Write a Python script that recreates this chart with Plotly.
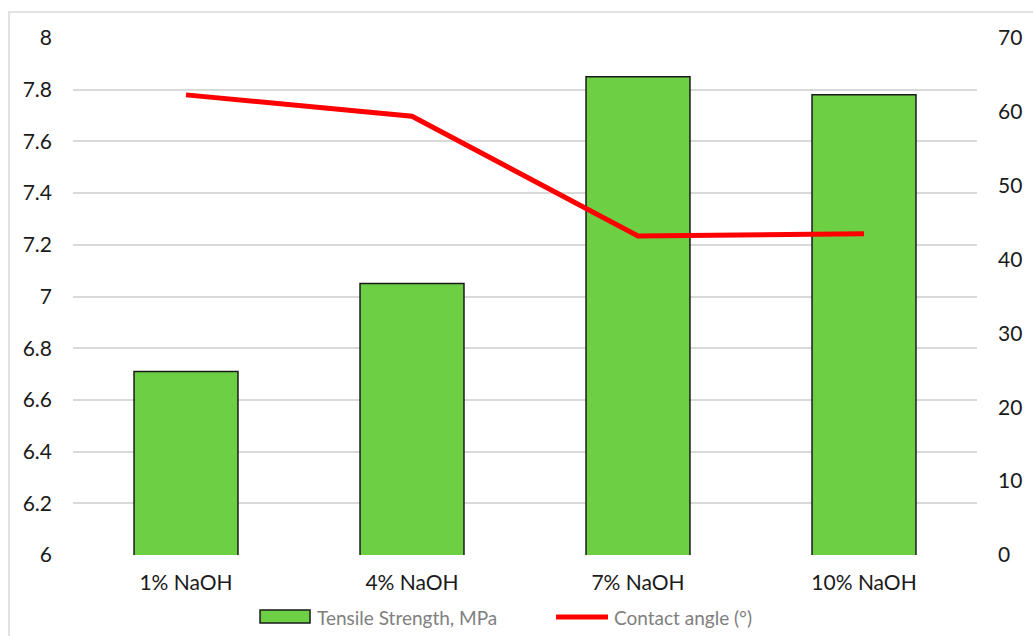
import plotly.graph_objects as go

categories = ["1% NaOH", "4% NaOH", "7% NaOH", "10% NaOH"]
tensile_strength = [6.71, 7.05, 7.85, 7.78]
contact_angle = [62.3, 59.4, 43.2, 43.5]

left_ticks = [6, 6.2, 6.4, 6.6, 6.8, 7, 7.2, 7.4, 7.6, 7.8, 8]
left_tick_text = ["6", "6.2", "6.4", "6.6", "6.8", "7", "7.2", "7.4", "7.6", "7.8", "8"]
right_ticks = [0, 10, 20, 30, 40, 50, 60, 70]

bar_name = "Tensile Strength, MPa"
line_name = "Contact angle (°)"

FONT = "Lato, 'Open Sans', sans-serif"
BAR_FILL = "#6dd044"
LINE_RED = "#ff0000"

fig = go.Figure()
fig.add_trace(go.Bar(
    x=categories, y=tensile_strength, name=bar_name,
    marker=dict(color=BAR_FILL, line=dict(color="#1a1a1a", width=1.5)),
    yaxis="y", showlegend=False,
))
fig.add_trace(go.Scatter(
    x=categories, y=contact_angle, name=line_name,
    mode="lines", line=dict(color=LINE_RED, width=5),
    yaxis="y2", showlegend=False,
))

# legend drawn below the plot: swatch + label for each series
legend_y = -0.12
shapes = [
    dict(type="rect", xref="paper", yref="paper",
         x0=-0.0708, x1=1.2, y0=-0.3, y1=1.0503,
         line=dict(color="#d9d9d9", width=1.5), fillcolor="rgba(0,0,0,0)",
         layer="below"),
    dict(type="rect", xref="paper", yref="paper",
         x0=0.2069, x1=0.2622, y0=-0.1315, y1=-0.1064,
         line=dict(color="#1a1a1a", width=1.5), fillcolor=BAR_FILL),
    dict(type="line", xref="paper", yref="paper",
         x0=0.5343, x1=0.5918, y0=legend_y, y1=legend_y,
         line=dict(color=LINE_RED, width=5)),
]
annotations = [
    dict(text=bar_name, xref="paper", yref="paper", x=0.2677, y=legend_y,
         xanchor="left", yanchor="middle", showarrow=False,
         font=dict(family=FONT, size=19, color="#808080")),
    dict(text=line_name, xref="paper", yref="paper", x=0.5962, y=legend_y,
         xanchor="left", yanchor="middle", showarrow=False,
         font=dict(family=FONT, size=19, color="#808080")),
]

fig.update_layout(
    width=1033, height=636,
    margin=dict(l=73, r=56, t=38, b=81, autoexpand=False),
    plot_bgcolor="white", paper_bgcolor="white",
    bargap=0.54,
    font=dict(family=FONT, size=21, color="#1a1a1a"),
    xaxis=dict(showgrid=False, showline=False, ticks="", automargin=False,
               ticklabelstandoff=13, tickfont=dict(size=21)),
    yaxis=dict(range=[6, 8], tickvals=left_ticks, ticktext=left_tick_text,
               showgrid=True, gridcolor="#d9d9d9", gridwidth=1.5,
               zeroline=False, showline=False, ticks="", automargin=False,
               ticklabelstandoff=20, tickfont=dict(size=21)),
    yaxis2=dict(range=[0, 70], tickvals=right_ticks, overlaying="y", side="right",
                showgrid=False, zeroline=False, showline=False, ticks="",
                automargin=False, ticklabelstandoff=20, tickfont=dict(size=21)),
    showlegend=False,
    shapes=shapes,
    annotations=annotations,
)

fig.write_html("out.html")
